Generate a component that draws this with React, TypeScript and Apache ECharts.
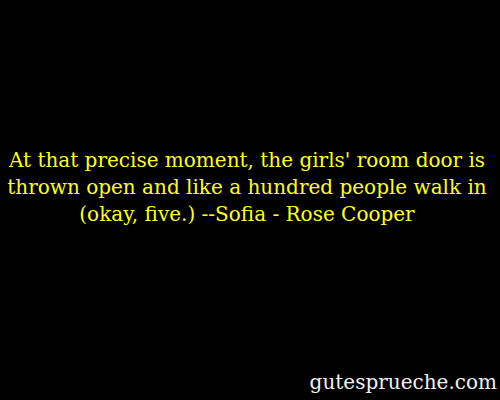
import { useEffect, useRef } from 'react'
import * as echarts from 'echarts'

// lines of the quote, top to bottom
const quoteLines = [
  "At that precise moment, the girls' room door is",
  'thrown open and like a hundred people walk in',
  '(okay, five.) --Sofia - Rose Cooper',
]
const siteLabel = 'gutesprueche.com'

const App = () => {
  const ref = useRef<HTMLDivElement | null>(null)

  useEffect(() => {
    document.body.style.margin = '0'
    if (!ref.current) return
    const chart = echarts.init(ref.current, null, { renderer: 'svg' })

    const lineHeight = 27
    const firstY = 160

    chart.setOption({
      animation: false,
      backgroundColor: '#000000',
      graphic: [
        ...quoteLines.map((line, i) => ({
          type: 'text',
          x: 247,
          y: firstY + i * lineHeight,
          style: {
            text: line,
            fill: '#ffff1a',
            font: '20px "DejaVu Serif"',
            textAlign: 'center',
            textVerticalAlign: 'middle',
          },
        })),
        {
          type: 'text',
          right: 3,
          top: 372,
          style: {
            text: siteLabel,
            fill: '#f2f2f2',
            font: '20px "DejaVu Serif"',
          },
        },
      ],
    })

    return () => chart.dispose()
  }, [])

  return <div ref={ref} style={{ width: 500, height: 400 }} />
}

export default App
